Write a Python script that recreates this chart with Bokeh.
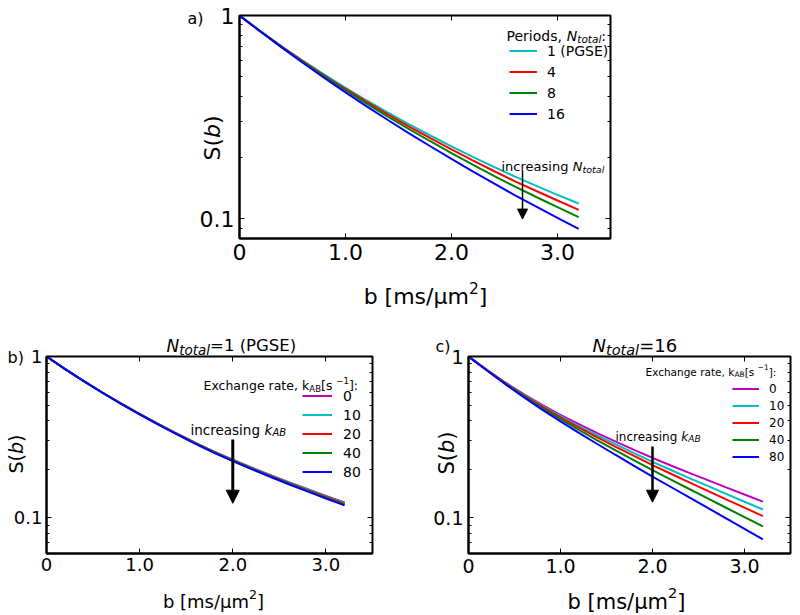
import math
from bokeh.plotting import figure
from bokeh.layouts import column, row, Spacer
from bokeh.models import (FixedTicker, LinearAxis, LogAxis, Label, Legend, LegendItem,
                          Arrow, NormalHead, Range1d, GridBox)
from bokeh.embed import file_html
from bokeh.resources import INLINE

# ---------------- data ----------------
b_values = [0.0, 0.2, 0.4, 0.6, 0.8, 1.0, 1.2, 1.4, 1.6, 1.8, 2.0, 2.2, 2.4, 2.6, 2.8, 3.0, 3.2]

x_ticks = [0, 1, 2, 3]
x_tick_labels = ["0", "1.0", "2.0", "3.0"]
y_ticks = [0.1, 1]
y_tick_labels = ["0.1", "1"]
y_minor_ticks = [0.06, 0.07, 0.08, 0.09, 0.2, 0.3, 0.4, 0.5, 0.6, 0.7, 0.8, 0.9]

# panel a: periods N_total
a_labels = ["1 (PGSE)", "4", "8", "16"]
a_S_n1 = [1, 0.8353, 0.7041, 0.5979, 0.5114, 0.4406, 0.3819, 0.3329, 0.2916, 0.2569,
          0.2272, 0.2018, 0.1800, 0.1611, 0.1452, 0.1312, 0.1189]
a_S_n4 = [1, 0.8344, 0.7018, 0.5944, 0.5068, 0.4351, 0.3757, 0.3261, 0.2843, 0.2492,
          0.2193, 0.1938, 0.1718, 0.1529, 0.1370, 0.1230, 0.1107]
a_S_n8 = [1, 0.8333, 0.6993, 0.5905, 0.5017, 0.4289, 0.3686, 0.3184, 0.2761, 0.2407,
          0.2105, 0.1848, 0.1628, 0.1439, 0.1280, 0.1141, 0.1019]
a_S_n16 = [1, 0.8316, 0.6952, 0.5840, 0.4932, 0.4189, 0.3574, 0.3062, 0.2633, 0.2274,
           0.1970, 0.1712, 0.1492, 0.1304, 0.1147, 0.1010, 0.0891]

# panels b, c: exchange rate k_AB
k_labels = ["0", "10", "20", "40", "80"]
b_S_k0 = [1, 0.8353, 0.7041, 0.5979, 0.5114, 0.4406, 0.3819, 0.3329, 0.2916, 0.2569,
          0.2291, 0.2051, 0.1845, 0.1664, 0.1507, 0.1367, 0.1244]
b_S_k10 = [1, 0.8352, 0.7038, 0.5975, 0.5108, 0.4399, 0.3811, 0.3320, 0.2906, 0.2559,
           0.2281, 0.2040, 0.1834, 0.1653, 0.1496, 0.1356, 0.1233]
b_S_k20 = [1, 0.8351, 0.7035, 0.5970, 0.5102, 0.4392, 0.3803, 0.3311, 0.2897, 0.2549,
           0.2270, 0.2029, 0.1823, 0.1642, 0.1484, 0.1344, 0.1221]
b_S_k40 = [1, 0.8349, 0.7032, 0.5966, 0.5096, 0.4385, 0.3795, 0.3302, 0.2887, 0.2539,
           0.2260, 0.2019, 0.1812, 0.1630, 0.1473, 0.1333, 0.1210]
b_S_k80 = [1, 0.8348, 0.7028, 0.5959, 0.5088, 0.4375, 0.3783, 0.3290, 0.2874, 0.2525,
           0.2245, 0.2003, 0.1796, 0.1614, 0.1457, 0.1316, 0.1193]

c_S_k0 = [1, 0.8260, 0.6902, 0.5848, 0.5012, 0.4345, 0.3802, 0.3350, 0.2965, 0.2636,
          0.2350, 0.2108, 0.1896, 0.1710, 0.1542, 0.1393, 0.1259]
c_S_k10 = [1, 0.8246, 0.6867, 0.5794, 0.4941, 0.4261, 0.3704, 0.3242, 0.2848, 0.2513,
           0.2222, 0.1977, 0.1762, 0.1575, 0.1406, 0.1257, 0.1125]
c_S_k20 = [1, 0.8235, 0.6839, 0.5750, 0.4884, 0.4191, 0.3625, 0.3155, 0.2755, 0.2416,
           0.2122, 0.1874, 0.1658, 0.1469, 0.1301, 0.1154, 0.1023]
c_S_k40 = [1, 0.8216, 0.6795, 0.5681, 0.4793, 0.4085, 0.3504, 0.3023, 0.2615, 0.2270,
           0.1972, 0.1723, 0.1507, 0.1319, 0.1153, 0.1010, 0.0883]
c_S_k80 = [1, 0.8191, 0.6739, 0.5598, 0.4684, 0.3955, 0.3359, 0.2866, 0.2450, 0.2100,
           0.1800, 0.1551, 0.1336, 0.1152, 0.0992, 0.0854, 0.0734]

a_colors = ["#00BFBF", "#FF0000", "#008000", "#0000FF"]
k_colors = ["#BF00BF", "#00BFBF", "#FF0000", "#008000", "#0000FF"]

FONT = "DejaVu Sans"

# approximate DejaVu Sans advance widths (em)
W = {'N': .748, 't': .392, 'o': .612, 'a': .613, 'l': .278, '=': .838, '1': .636, '6': .636,
     '2': .636, ' ': .318, '(': .390, ')': .390, 'P': .603, 'G': .775, 'S': .635, 'E': .632,
     'k': .579, 'A': .684, 'B': .686, 'i': .278, 'n': .634, 'c': .550, 'r': .411, 'e': .615,
     's': .521, 'g': .635, 'x': .592, 'h': .634, 'd': .635, ',': .318, ':': .337, '[': .390,
     ']': .390, '\u2212': .838, 'b': .635, 'm': .974, '/': .337, '\u03bc': .636}


def tw(s, size):
    return sum(W.get(ch, 0.6) for ch in s) * size


def pieces_width(pieces):
    return sum(tw(t, s) for t, s, _, _ in pieces)


def mk_label(x, y, txt, size, italic, units, angle=0.0):
    return Label(x=x, y=y, x_units=units, y_units=units, text=txt,
                 text_font=FONT, text_font_size=f"{size}px",
                 text_font_style="italic" if italic else "normal",
                 text_baseline="alphabetic", text_align="left",
                 text_color="black", angle=angle)


def rich(p, x, y, pieces):
    """Inline pieces inside a panel frame (screen units, y up)."""
    for txt, size, italic, dy in pieces:
        p.add_layout(mk_label(x, y + dy, txt, size, italic, "screen"))
        x += tw(txt, size)


def rich_page(p, x, y, pieces, vertical=False, center=False):
    """Pieces on the page-overlay figure (data units = page px, y down)."""
    if center:
        x -= pieces_width(pieces) / 2
    for txt, size, italic, dy in pieces:
        if vertical:
            p.add_layout(mk_label(x, y, txt, size, italic, "data", angle=math.pi / 2))
            y -= tw(txt, size)
        else:
            p.add_layout(mk_label(x, y - dy, txt, size, italic, "data"))
            x += tw(txt, size)


def make_fig(w, h, ymin, bl, br, bt, bb, tick_px, tick_stand):
    p = figure(width=w, height=h, x_range=Range1d(0, 3.5), y_range=Range1d(ymin, 1),
               y_axis_type="log", output_backend="svg", toolbar_location=None,
               min_border_left=bl, min_border_right=br, min_border_top=bt,
               min_border_bottom=bb)
    p.grid.visible = False
    p.outline_line_color = "black"
    p.outline_line_width = 2
    p.outline_line_alpha = 1
    p.background_fill_color = "white"
    p.border_fill_color = "white"

    p.xaxis.ticker = FixedTicker(ticks=x_ticks, minor_ticks=[])
    p.xaxis.major_label_overrides = dict(zip(x_ticks, x_tick_labels))
    p.yaxis.ticker = FixedTicker(ticks=y_ticks, minor_ticks=y_minor_ticks)
    p.yaxis.major_label_overrides = dict(zip(y_ticks, y_tick_labels))
    for ax in (p.xaxis[0], p.yaxis[0]):
        ax.axis_line_color = "black"
        ax.axis_line_width = 2
        ax.major_tick_in = 5
        ax.major_tick_out = 0
        ax.minor_tick_in = 3
        ax.minor_tick_out = 0
        ax.major_tick_line_color = "black"
        ax.minor_tick_line_color = "black"
        ax.major_label_text_font = FONT
        ax.major_label_text_font_size = f"{tick_px}px"
        ax.major_label_text_color = "black"
        ax.major_label_standoff = tick_stand

    top = LinearAxis(ticker=FixedTicker(ticks=x_ticks, minor_ticks=[]),
                     major_label_text_font_size="0px", major_label_standoff=0,
                     major_tick_in=5, major_tick_out=0, minor_tick_in=0, minor_tick_out=0,
                     axis_line_color=None, major_label_text_color=None)
    p.add_layout(top, "above")
    right = LogAxis(ticker=FixedTicker(ticks=y_ticks, minor_ticks=y_minor_ticks),
                    major_label_text_font_size="0px", major_label_standoff=0,
                    major_tick_in=5, major_tick_out=0, minor_tick_in=3, minor_tick_out=0,
                    axis_line_color=None, major_label_text_color=None)
    p.add_layout(right, "right")
    return p


def add_legend(p, renderers, labels, loc, gw, gh, standoff, font_px):
    items = [LegendItem(label=l, renderers=[r]) for l, r in zip(labels, renderers)]
    lg = Legend(items=items, location=loc, orientation="vertical",
                border_line_color=None, background_fill_alpha=0, padding=0, margin=0,
                spacing=0, glyph_width=gw, glyph_height=gh, label_height=gh,
                label_standoff=standoff, label_text_font=FONT,
                label_text_font_size=f"{font_px}px", label_text_color="black")
    p.add_layout(lg)


# ---------------- panel a ----------------
pa = make_fig(500, 312, 0.08, 99, 30, 15, 74, 22, 5)
a_series = [a_S_n1, a_S_n4, a_S_n8, a_S_n16]
ra = [pa.line(b_values, s, line_color=c, line_width=2) for s, c in zip(a_series, a_colors)]
add_legend(pa, ra, a_labels, (270, 114), 28, 21, 10, 14)
rich(pa, 267, 203, [("Periods, ", 14, False, 0), ("N", 14, True, 0),
                     ("total", 10.5, True, -3), (":", 14, False, 0)])
rich(pa, 262, 72, [("increasing ", 13, False, 0), ("N", 13, True, 0),
                    ("total", 9.5, True, -3)])
pa.add_layout(Arrow(x_start=2.67, y_start=0.172, x_end=2.67, y_end=0.0997,
                    line_color="black", line_width=1.5,
                    end=NormalHead(size=10, fill_color="black", line_color="black")))

# ---------------- panel b ----------------
pb = make_fig(400, 295, 0.06, 46, 28, 44, 54, 18, 4)
b_series = [b_S_k0, b_S_k10, b_S_k20, b_S_k40, b_S_k80]
rb = [pb.line(b_values, s, line_color=c, line_width=2) for s, c in zip(b_series, k_colors)]
add_legend(pb, rb, k_labels, (256, 72), 30, 19, 11, 14)
rich(pb, 157, 168, [("Exchange rate, k", 12.5, False, 0), ("AB", 8.5, False, -3),
                     (" [s", 12.5, False, 0), ("\u22121", 8.5, False, 5),
                     ("]:", 12.5, False, 0)])
rich(pb, 144, 124, [("increasing ", 13.5, False, 0), ("k", 13.5, True, 0),
                     ("AB", 10, True, -3)])
pb.add_layout(Arrow(x_start=2.0, y_start=0.306, x_end=2.0, y_end=0.123,
                    line_color="black", line_width=3,
                    end=NormalHead(size=13, fill_color="black", line_color="black")))

# ---------------- panel c ----------------
pc = make_fig(392, 295, 0.06, 68, 2, 44, 54, 19, 5)
c_series = [c_S_k0, c_S_k10, c_S_k20, c_S_k40, c_S_k80]
rc = [pc.line(b_values, s, line_color=c, line_width=2) for s, c in zip(c_series, k_colors)]
add_legend(pc, rc, k_labels, (264, 88), 27, 17, 10, 12)
rich(pc, 177, 182, [("Exchange rate, k", 10.5, False, 0), ("AB", 7.5, False, -2.5),
                     (" [s", 10.5, False, 0), ("\u22121", 7.5, False, 4.2),
                     ("]:", 10.5, False, 0)])
rich(pc, 147, 117, [("increasing ", 12, False, 0), ("k", 12, True, 0),
                     ("AB", 9, True, -2.5)])
pc.add_layout(Arrow(x_start=2.0, y_start=0.2765, x_end=2.0, y_end=0.1248,
                    line_color="black", line_width=2.5,
                    end=NormalHead(size=12, fill_color="black", line_color="black")))

main = column(row(Spacer(width=140, height=312), pa), row(pb, pc))

# ---------------- transparent page overlay for texts outside the frames ----------------
PW, PH = 792, 614
ov = figure(width=PW, height=PH, x_range=Range1d(0, PW), y_range=Range1d(PH, 0),
            output_backend="svg", toolbar_location=None, min_border=0,
            x_axis_location=None, y_axis_location=None,
            background_fill_color=None, border_fill_color=None, outline_line_color=None)
ov.grid.visible = False

# panel letters
rich_page(ov, 187, 18, [("a)", 16, False, 0)])
rich_page(ov, 7, 357, [("b)", 16, False, 0)])
rich_page(ov, 435, 346, [("c)", 16, False, 0)])
# y-axis labels S(b)
rich_page(ov, 212, 160, [("S(", 22, False, 0), ("b", 22, True, 0), (")", 22, False, 0)],
          vertical=True)
rich_page(ov, 15, 473, [("S(", 19, False, 0), ("b", 19, True, 0), (")", 19, False, 0)],
          vertical=True)
rich_page(ov, 446, 474, [("S(", 21, False, 0), ("b", 21, True, 0), (")", 21, False, 0)],
          vertical=True)
# x-axis labels b [ms/um^2]
rich_page(ov, 425, 296, [("b [ms/\u03bcm", 22, False, 0), ("2", 15.5, False, 9),
                         ("]", 22, False, 0)], center=True)
rich_page(ov, 213, 601, [("b [ms/\u03bcm", 18, False, 0), ("2", 12.6, False, 7.5),
                         ("]", 18, False, 0)], center=True)
rich_page(ov, 626, 601, [("b [ms/\u03bcm", 21, False, 0), ("2", 14.7, False, 8.5),
                         ("]", 21, False, 0)], center=True)
# panel titles
rich_page(ov, 166, 345, [("N", 17, True, 0), ("total", 13.5, True, -4),
                         ("=1 (PGSE)", 16.5, False, 0)])
rich_page(ov, 592, 345, [("N", 18, True, 0), ("total", 14.5, True, -4), ("=16", 18, False, 0)])

page = GridBox(children=[(main, 0, 0), (ov, 0, 0)])

with open("out.html", "w") as f:
    f.write(file_html(page, INLINE))
